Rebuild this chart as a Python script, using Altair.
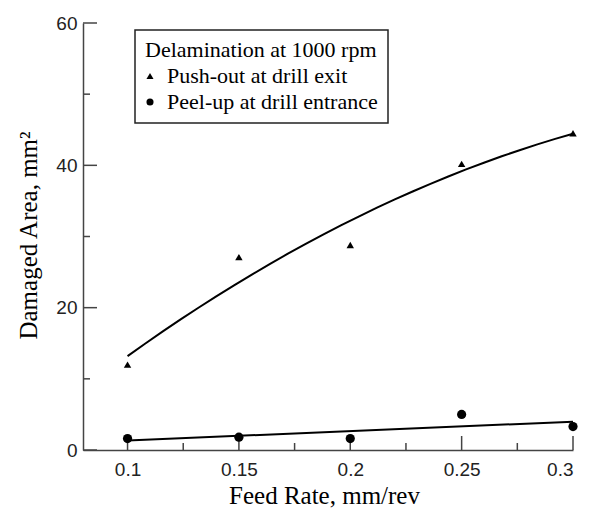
import altair as alt
import pandas as pd

# ---- data ----
feed = [0.10, 0.15, 0.20, 0.25, 0.30]
push_out = [12.0, 27.1, 28.8, 40.2, 44.5]
peel_up = [1.6, 1.8, 1.6, 5.0, 3.3]
series_names = ["Push-out at drill exit", "Peel-up at drill entrance"]
legend_title = "Delamination at 1000 rpm"
x_major = [0.1, 0.15, 0.2, 0.25, 0.3]
x_minor = [0.125, 0.175, 0.225, 0.275]
y_major = [0, 20, 40, 60]
y_minor = [10, 30, 50]

df = pd.DataFrame({
    "feed": feed + feed,
    "area": push_out + peel_up,
    "series": [series_names[0]] * len(feed) + [series_names[1]] * len(feed),
})

W, H = 490, 427
AX = "#444444"
SERIF = "Liberation Serif"
SANS = "Liberation Sans"

xscale = alt.Scale(domain=[0.08, 0.30], nice=False, zero=False)
yscale = alt.Scale(domain=[0, 60], nice=False, zero=False)

x_axis = alt.Axis(values=x_major, format="~g", title="Feed Rate, mm/rev",
                  ticks=False, grid=False, labelPadding=10,
                  titleX=241, titleY=53, titleBaseline="alphabetic", titleAlign="center")
y_axis = alt.Axis(values=y_major, title="Damaged Area, mm\u00b2",
                  ticks=False, grid=False, labelPadding=6,
                  titleX=-47, titleY=212, titleAngle=270, titleBaseline="alphabetic",
                  titleAlign="center")

X = alt.X("feed:Q", scale=xscale, axis=x_axis)
Y = alt.Y("area:Q", scale=yscale, axis=y_axis)

# inward tick marks, drawn through the scales
y_maj_ticks = alt.Chart(pd.DataFrame({"area": y_major})).mark_rule(
    color=AX, strokeWidth=1.5).encode(y=Y, x=alt.value(0), x2=alt.value(14))
y_min_ticks = alt.Chart(pd.DataFrame({"area": y_minor})).mark_rule(
    color=AX, strokeWidth=1.5).encode(y=Y, x=alt.value(0), x2=alt.value(7))
x_maj_ticks = alt.Chart(pd.DataFrame({"feed": x_major})).mark_rule(
    color=AX, strokeWidth=1.5).encode(x=X, y=alt.value(H), y2=alt.value(H - 14))
x_min_ticks = alt.Chart(pd.DataFrame({"feed": x_minor})).mark_rule(
    color=AX, strokeWidth=1.5).encode(x=X, y=alt.value(H), y2=alt.value(H - 7))

fit_push = alt.Chart(df).transform_filter(
    alt.datum.series == series_names[0]
).transform_regression("feed", "area", method="poly", order=2).mark_line(
    color="black", strokeWidth=2).encode(x=X, y=Y)

fit_peel = alt.Chart(df).transform_filter(
    alt.datum.series == series_names[1]
).transform_regression("feed", "area", method="linear").mark_line(
    color="black", strokeWidth=2).encode(x=X, y=Y)

points = alt.Chart(df).mark_point(filled=True, opacity=1, color="black").encode(
    x=X, y=Y,
    shape=alt.Shape("series:N",
                    scale=alt.Scale(domain=series_names, range=["triangle-up", "circle"]),
                    legend=alt.Legend(title=legend_title, orient="none",
                                      legendX=52, legendY=7)),
    size=alt.condition(alt.datum.series == series_names[1], alt.value(85), alt.value(55)),
)

chart = alt.layer(
    y_maj_ticks, y_min_ticks, x_maj_ticks, x_min_ticks, fit_push, fit_peel, points
).properties(
    width=W, height=H,
    autosize=alt.AutoSizeParams(type="none"),
    padding={"left": 75, "top": 15, "right": 11, "bottom": 62},
).configure_view(stroke=None).configure_axis(
    domainColor=AX, domainWidth=1.5,
    labelFont=SANS, labelFontSize=19, labelColor="#222222",
    titleFont=SERIF, titleFontSize=25, titleFontWeight="normal", titleColor="black",
).configure_legend(
    titleFont=SERIF, titleFontSize=22, titleFontWeight="normal", titleColor="black",
    labelFont=SERIF, labelFontSize=22, labelColor="black",
    strokeColor="#222222", strokeWidth=1.5, fillColor="white", padding=10,
    symbolSize=50, symbolFillColor="black", symbolStrokeColor="black",
    symbolOffset=-6, labelOffset=6, rowPadding=4, titlePadding=3,
    labelLimit=400, titleLimit=400,
)

chart.save("out.html", embed_options={"renderer": "svg", "actions": False})
